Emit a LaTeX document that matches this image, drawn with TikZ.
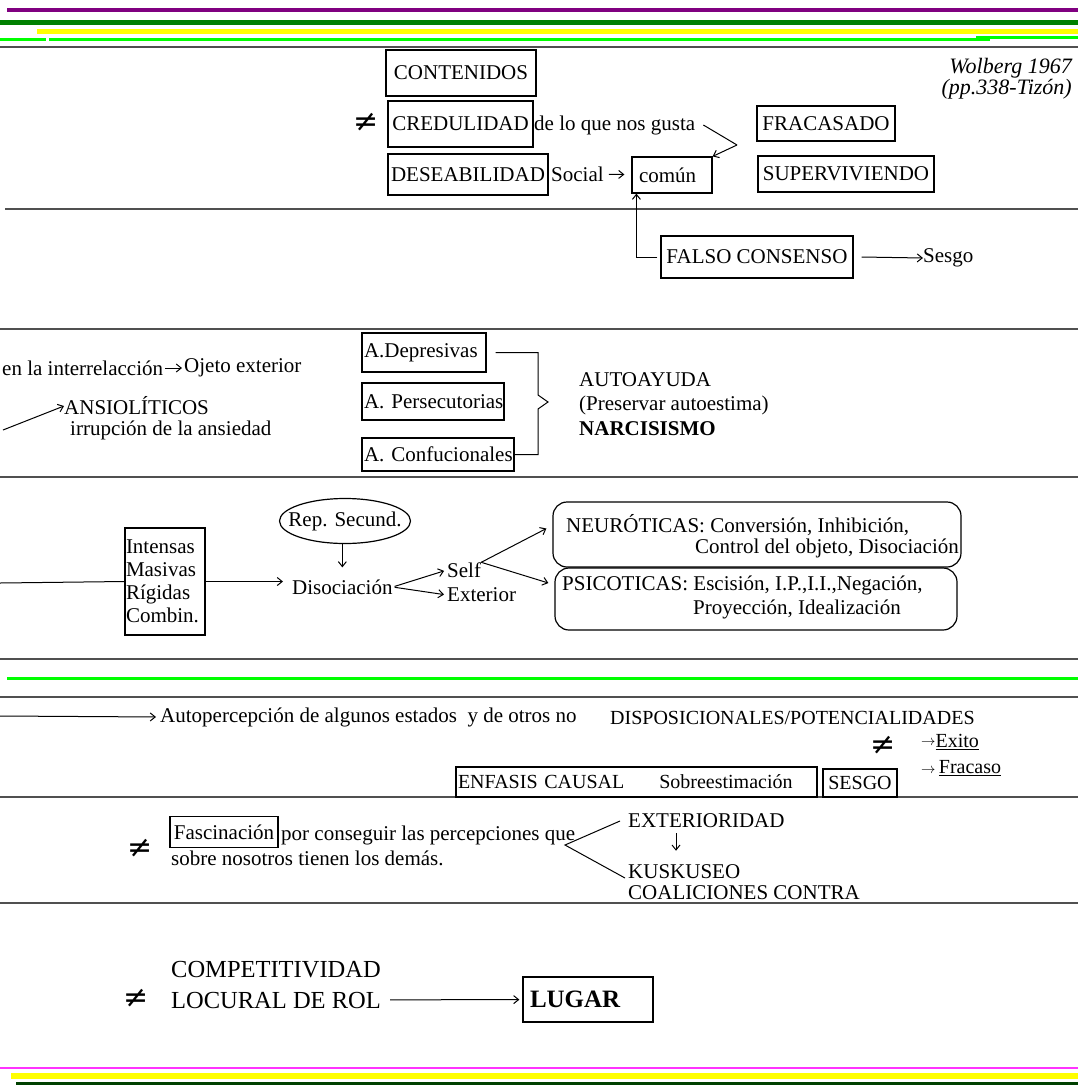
\documentclass[tikz,border=0pt]{standalone}
\usepackage{fontspec}
\setmainfont{Liberation Serif}
\newfontfamily\symfont{DejaVu Sans}
\usepackage{tikz}
\usetikzlibrary{arrows.meta,shapes.geometric}
\tikzset{>={Straight Barb[length=5pt,width=8pt]}}
\definecolor{barpurple}{RGB}{128,0,128}
\definecolor{bargreen}{RGB}{0,128,0}
\definecolor{barlime}{RGB}{0,255,0}
\definecolor{baryellow}{RGB}{255,255,0}
\definecolor{barmagenta}{RGB}{255,51,255}
\definecolor{bardark}{RGB}{0,64,0}
\definecolor{rulegray}{RGB}{80,80,80}
\tikzset{
  rule/.style={draw=rulegray,line width=1.8pt},
  box/.style={draw,line width=1.2pt,inner sep=0pt},
  lbox/.style={box,align=left,inner xsep=2pt},
  rbox/.style={box,rounded corners=14pt},
  neq/.style={font=\symfont\fontsize{30}{30}\selectfont},
  conn/.style={line width=1pt},
  bigtxt/.style={font=\fontsize{24.5}{28}\selectfont},
  smalltxt/.style={font=\fontsize{20}{22}\selectfont}
}

\begin{document}
\begin{tikzpicture}[x=1pt,y=-1pt,inner sep=0pt,font=\fontsize{21}{23}\selectfont]
\useasboundingbox (0,0) rectangle (1078,1085);

\draw[barpurple,line width=4pt] (7,10) -- (1078,10);
\draw[bargreen,line width=5pt] (0,22.5) -- (1078,22.5);
\draw[baryellow,line width=5pt] (37,31.5) -- (1078,31.5);
\draw[barlime,line width=3pt] (0,39.5) -- (46,39.5) (49,39.5) -- (990,39.5);
\draw[barlime,line width=3pt] (976,37.5) -- (1078,37.5);
\foreach \y in {47,329,477,659,697,797,903} \draw[rule] (0,\y) -- (1078,\y);
\draw[rule] (5,209) -- (1078,209);
\draw[barlime,line width=3pt] (7,678) -- (1078,678);
\draw[barmagenta,line width=2pt] (0,1068) -- (1078,1068);
\draw[baryellow,line width=6pt] (11,1076) -- (1078,1076);
\draw[bardark,line width=4pt] (16,1084) -- (1078,1084);

\node[box,minimum width=150pt,minimum height=46pt] (contenidos) at (461,73) {CONTENIDOS};
\node[neq] (neqA) at (366,122) {≠};
\node[box,minimum width=145pt,minimum height=46pt] (credulidad) at (460.5,124) {CREDULIDAD};
\node[anchor=west] (gusta) at (534,125) {de lo que nos gusta};
\node[box,minimum width=160pt,minimum height=41pt] (deseab) at (468,174.5) {DESEABILIDAD};
\node[anchor=west] (social) at (551,174) {Social};
\node[lbox,text width=66pt,inner xsep=7pt,minimum height=36pt] (comun) at (672,175) {común};
\node[box,minimum width=138pt,minimum height=35pt] (fracasado) at (826,123.5) {FRACASADO};
\node[box,minimum width=176pt,minimum height=36pt] (superviv) at (846,174) {SUPERVIVIENDO};
\node[anchor=east,align=right,font=\fontsize{22}{21}\selectfont\itshape] (wolberg) at (1072,79) {Wolberg 1967\\(pp.338-Tizón)};
\coordinate (vtip) at (737,145);
\draw[conn] ([xshift=8pt]gusta.east) -- (vtip);
\draw[conn,->] (vtip) -- (comun.north east);
\draw[conn,->,shorten <=5pt,shorten >=7pt] (social) -- (comun);

\node[box,minimum width=192pt,minimum height=42pt] (falso) at (757,257) {FALSO CONSENSO};
\node[anchor=west] (sesgoA) at (923,258) {Sesgo};
\draw[conn,->] ([xshift=8pt]falso.east) -- (sesgoA.west);
\draw[conn,->] ([xshift=-3pt]falso.west) -| ([xshift=5pt]comun.south west);

\node[anchor=west] (interrel) at (2,368) {en la interrelacción};
\node[anchor=west] (ojeto) at (184,368) {Ojeto exterior};
\draw[conn,->,shorten <=2pt,shorten >=2pt] (interrel) -- (ojeto);
\coordinate (ansIn) at (3,430);
\node[anchor=west] (ansiol) at (64,406) {ANSIOLÍTICOS};
\draw[conn,->] (ansIn) -- (ansiol.west);
\node[anchor=west] (irrup) at (70,430) {irrupción de la ansiedad};
\node[lbox,text width=120pt,minimum height=39pt] (depres) at (424,352.5) {\mbox{A.Depresivas}};
\node[lbox,text width=138pt,minimum height=37pt] (persec) at (433,401.5) {\mbox{A. Persecutorias}};
\node[lbox,text width=148pt,minimum height=33pt] (confuc) at (438,454.5) {\mbox{A. Confucionales}};
\coordinate (brk) at (548,402);
\draw[conn] ([xshift=9pt]depres.east) -| (538,395) -- (brk) -- (538,409) |- (confuc.east);
\node[anchor=west,align=left,font=\fontsize{21}{24.5}\selectfont] (autoayuda) at (579,404) {AUTOAYUDA\\(Preservar autoestima)\\\textbf{NARCISISMO}};

\coordinate (lineIn) at (0,583);
\node[lbox,text width=78pt,inner xsep=1pt,minimum height=107pt] (intens) at (165,581.5) {Intensas\\Masivas\\Rígidas\\Combin.};
\draw[conn] (lineIn) -- (intens.west);
\node[anchor=west] (disoc) at (292,587) {Disociación};
\draw[conn,->,shorten >=9pt] (intens.east) -- (intens.east -| disoc.west);
\node[draw,ellipse,line width=1.2pt,inner xsep=-12pt,minimum width=131pt,minimum height=45pt] (repsec) at (345,521) {Rep. Secund.};
\draw[conn,->,shorten >=12pt] (repsec.south -| disoc.north) -- (disoc.north);
\node[anchor=west] (self) at (447,570) {Self};
\node[anchor=west] (exterior) at (447,595) {Exterior};
\draw[conn,->,shorten <=2pt,shorten >=3pt] (disoc.east) -- (self.west);
\draw[conn,->,shorten <=2pt,shorten >=3pt] (disoc.east) -- (exterior.west);
\node[rbox,minimum width=408pt,minimum height=65pt] (neuro) at (757,534.5) {};
\node[rbox,minimum width=402pt,minimum height=62pt] (psico) at (756,599) {};
\node[anchor=west] (neuroA) at (566,525) {NEURÓTICAS: Conversión, Inhibición,};
\node[anchor=east] (neuroB) at (959,548) {Control del objeto, Disociación};
\node[anchor=west] (psicoA) at (562,585) {PSICOTICAS: Escisión, I.P.,I.I.,Negación,};
\node[anchor=west] (psicoB) at (693,609) {Proyección, Idealización};
\draw[conn,->] (self.north east) -- ([xshift=-6pt,yshift=6pt]neuro.west);
\draw[conn,->] (self.north east) -- ([xshift=-6pt,yshift=16pt]psico.west);

\coordinate (autoIn) at (0,716);
\node[anchor=west] (autop) at (160,717) {Autopercepción de algunos estados\ \ y de otros no};
\draw[conn,->,shorten >=4pt] (autoIn) -- (autop.west);
\node[anchor=west,smalltxt] (dispos) at (610,718) {DISPOSICIONALES/POTENCIALIDADES};
\node[neq] (neqB) at (883,745) {≠};
\node[anchor=west,smalltxt] (exito) at (921,742) {\raisebox{2pt}{\fontsize{14}{14}\selectfont$\rightarrow$}\underline{Exito}};
\node[anchor=west,smalltxt] (fracaso) at (921,768) {{\fontsize{14}{14}\selectfont$\rightarrow$}\,\underline{Fracaso}};
\node[box,text width=357pt,align=left,inner xsep=2pt,minimum height=30pt,smalltxt] (enfasis) at (636.5,782) {ENFASIS CAUSAL\hspace{35pt}Sobreestimación};
\node[box,minimum width=74pt,minimum height=28pt,smalltxt] (sesgoB) at (860,783) {SESGO};

\node[neq] (neqC) at (140,848) {≠};
\node[box,minimum width=108pt,minimum height=31pt] (fasci) at (224,832) {Fascinación};
\node[anchor=west] (percep) at (281,835) {por conseguir las percepciones que};
\node[anchor=west] (sobre) at (171,858) {sobre nosotros tienen los demás.};
\coordinate (vpt) at (565,845);
\node[anchor=west] (exter) at (628,821) {EXTERIORIDAD};
\node[anchor=west] (kusk) at (628,872) {KUSKUSEO};
\node[anchor=west] (coal) at (628,893) {COALICIONES CONTRA};
\draw[conn] ([xshift=-8pt]exter.west) -- (vpt) -- ([xshift=-3pt,yshift=15pt]coal.west);
\draw[conn,->,shorten <=5pt,shorten >=14pt] ([xshift=48pt]exter.south west) -- ([xshift=48pt]kusk.north west);

\node[neq] (neqD) at (136,998) {≠};
\node[anchor=west,bigtxt] (compet) at (171,970) {COMPETITIVIDAD};
\node[anchor=west,bigtxt] (locural) at (171,1000) {LOCURAL DE ROL};
\node[box,text width=116pt,align=left,inner xsep=7pt,minimum height=45pt,font=\fontsize{25}{28}\selectfont\bfseries] (lugar) at (588,999.5) {LUGAR};
\draw[conn,->,shorten <=9pt,shorten >=3pt] (locural) -- (lugar);
\end{tikzpicture}
\end{document}
